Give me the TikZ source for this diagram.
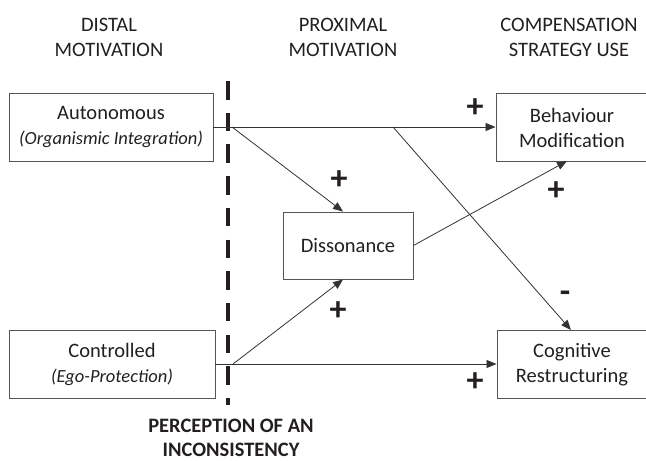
\documentclass[tikz,border=0pt]{standalone}
\usepackage{fontspec}
\setmainfont{Carlito}
\usetikzlibrary{arrows.meta,calc}
\definecolor{ink}{HTML}{231F20}
\definecolor{linec}{HTML}{333333}
\definecolor{boxc}{HTML}{555555}
\tikzset{
  box/.style={draw=boxc,line width=0.9pt,inner sep=0pt,align=center,text=ink,
    font=\fontsize{20.5}{25}\selectfont},
  txt/.style={align=center,text=ink,inner sep=0pt,font=\fontsize{20.5}{25}\selectfont},
  head/.style={align=center,text=ink,font=\fontsize{20.5}{25}\selectfont},
  conn/.style={draw=linec,line width=0.8pt,-{Triangle[length=10pt,width=8pt]}},
  sign/.style={text=ink,font=\fontsize{34}{34}\selectfont\bfseries,inner sep=0pt},
}
\newcommand{\subtxt}[1]{{\fontsize{18.5}{25}\selectfont\itshape #1}}
\begin{document}
\begin{tikzpicture}[x=1pt,y=-1pt]
\useasboundingbox (0,0) rectangle (646,461);
\clip (0,0) rectangle (646,461);
% headers
\node[head] (h1) at (109,37.5) {DISTAL\\MOTIVATION};
\node[head] (h2) at (343,37.5) {PROXIMAL\\MOTIVATION};
\node[head] (h3) at (569,37.5) {COMPENSATION\\STRATEGY USE};
% boxes
\node[box,minimum width=204,minimum height=68] (auto) at (111,127) {Autonomous\\\subtxt{(Organismic Integration)}};
\node[box,minimum width=206,minimum height=68] (ctrl) at (112,364) {Controlled\\\subtxt{(Ego-Protection)}};
\node[box,minimum width=130,minimum height=67] (diss) at (348,245.5) {Dissonance};
\node[box,minimum width=170,minimum height=68] (beh) at (581,127) {};
\node[txt] (behtxt) at (572,128) {Behaviour\\Modification};
\node[box,minimum width=170,minimum height=68] (cog) at (582,364) {};
\node[txt] (cogtxt) at (572,365) {Cognitive\\Restructuring};
% dashed line
\coordinate (dtop) at (228,81);
\coordinate (dbot) at (228,405);
\draw[draw=ink,line width=4pt,dash pattern=on 18.5pt off 13.2pt] (dtop) -- (dbot);
% branch points and arrow ends
\coordinate (a1) at (232,127);
\coordinate (a2) at (393,127);
\coordinate (c1) at (233,364);
\coordinate (behin) at (567,161);
\coordinate (cogin) at (571,330);
% connectors
\draw[conn] (auto.east) -- (beh.west);
\draw[conn] (a1) -- ([xshift=-5pt]diss.north);
\draw[conn] (a2) -- (cogin);
\draw[conn] (diss.east) -- (behin);
\draw[conn] (ctrl.east) -- (cog.west);
\draw[conn] (c1) -- ([xshift=-5pt]diss.south);
% signs
\node[sign] (p1) at (475,108) {+};
\node[sign] (p2) at (339,180) {+};
\node[sign] (p3) at (556,191) {+};
\node[sign] (p4) at (338,311) {+};
\node[sign] (p5) at (475,382) {+};
\node[sign] (m1) at (565,297) {-};
% bottom label
\node[head,font=\fontsize{20.5}{24}\selectfont\bfseries] (perc) at (231,438) {PERCEPTION OF AN\\INCONSISTENCY};
\end{tikzpicture}
\end{document}
